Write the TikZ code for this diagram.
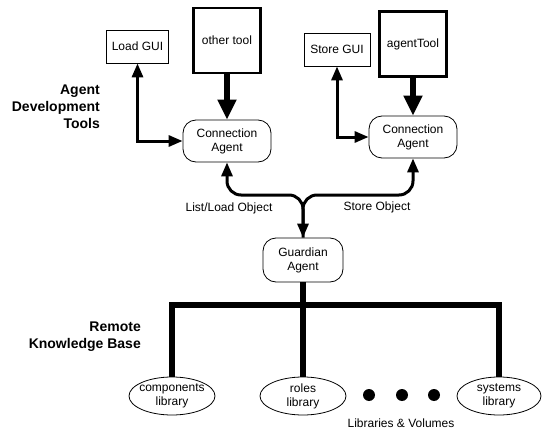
\documentclass[tikz,border=0pt]{standalone}
\usepackage{fontspec}
\setmainfont{Liberation Sans}
\usetikzlibrary{arrows.meta,shapes.geometric}
\tikzset{
  Tsm/.tip={Triangle[length=14pt,width=11pt]},
  Tbg/.tip={Triangle[length=20pt,width=18pt]}
}
\begin{document}
\begin{tikzpicture}[x=1pt,y=-1pt,
  every node/.style={font=\fontsize{12}{14}\selectfont, inner sep=0pt, align=center},
  gui/.style={draw, line width=0.8pt, minimum height=33pt},
  tool/.style={draw, line width=2.8pt, minimum width=67pt, minimum height=65pt},
  agent/.style={draw, rounded corners=13pt, line width=0.8pt, minimum width=88pt, minimum height=42pt},
  lib/.style={draw, ellipse, inner sep=-9pt, line width=0.8pt, minimum width=86pt, minimum height=38pt},
  thinline/.style={line width=3pt},
  thickline/.style={line width=5.5pt},
  heading/.style={font=\fontsize{14}{17}\selectfont\bfseries, align=right},
  dotnode/.style={fill, circle, minimum size=12pt}
]
\useasboundingbox (0,0) rectangle (542,431);

% top tools
\node[gui, minimum width=62pt] (lgui) at (137.5,46.5) {Load GUI};
\node[tool] (otool) at (227,40.5) {other tool};
\node[gui, minimum width=66pt] (sgui) at (337,49.5) {Store GUI};
\node[tool] (atool) at (413,44) {agentTool};

% agents
\node[agent] (ca1) at (227,141) {Connection\\Agent};
\node[agent] (ca2) at (413,137) {Connection\\Agent};
\node[agent, minimum width=80pt, minimum height=44pt] (ga) at (303,260) {Guardian\\Agent};

% headings
\node[heading, anchor=east] (adt) at (100,107) {Agent\\Development\\Tools};
\node[heading, anchor=east] (rkb) at (141,336.5) {Remote\\Knowledge Base};

% libraries
\node[lib] (comp) at (172,396) {components\\library};
\node[lib] (roles) at (303,396) {roles\\library};
\node[lib, minimum width=84pt] (sys) at (499,396) {systems\\library};
\node[dotnode] (d1) at (369,395) {};
\node[dotnode] (d2) at (402,395) {};
\node[dotnode] (d3) at (434,395) {};
\node (lv) at (401,423) {Libraries \& Volumes};

% labels
\node (llo) at (229,208) {List/Load Object};
\node (so) at (377,207) {Store Object};

% connectors
\draw[thinline, {Tsm}-{Tsm}] (lgui.south) |- (ca1.west);
\draw[thinline, {Tsm}-{Tsm}] (sgui.south) |- (ca2.west);
\draw[thickline, -{Tbg}] (otool.south) -- (ca1.north);
\draw[thickline, -{Tbg}] (atool.south) -- (ca2.north);

\coordinate (j) at (303,195);
\draw[thinline, rounded corners=14pt, {Tsm}-{Tsm}] (ca1.south) |- (j) -- (ga.north);
\draw[thinline, rounded corners=14pt, {Tsm}-] (ca2.south) |- (j) -- (ga.north);

\coordinate (bl) at (172,305);
\coordinate (br) at (499,305);
\draw[thickline, line join=miter] (comp.north) -- (bl) -- (br) -- (sys.north);
\draw[thickline] (ga.south) -- (roles.north);
\end{tikzpicture}
\end{document}
